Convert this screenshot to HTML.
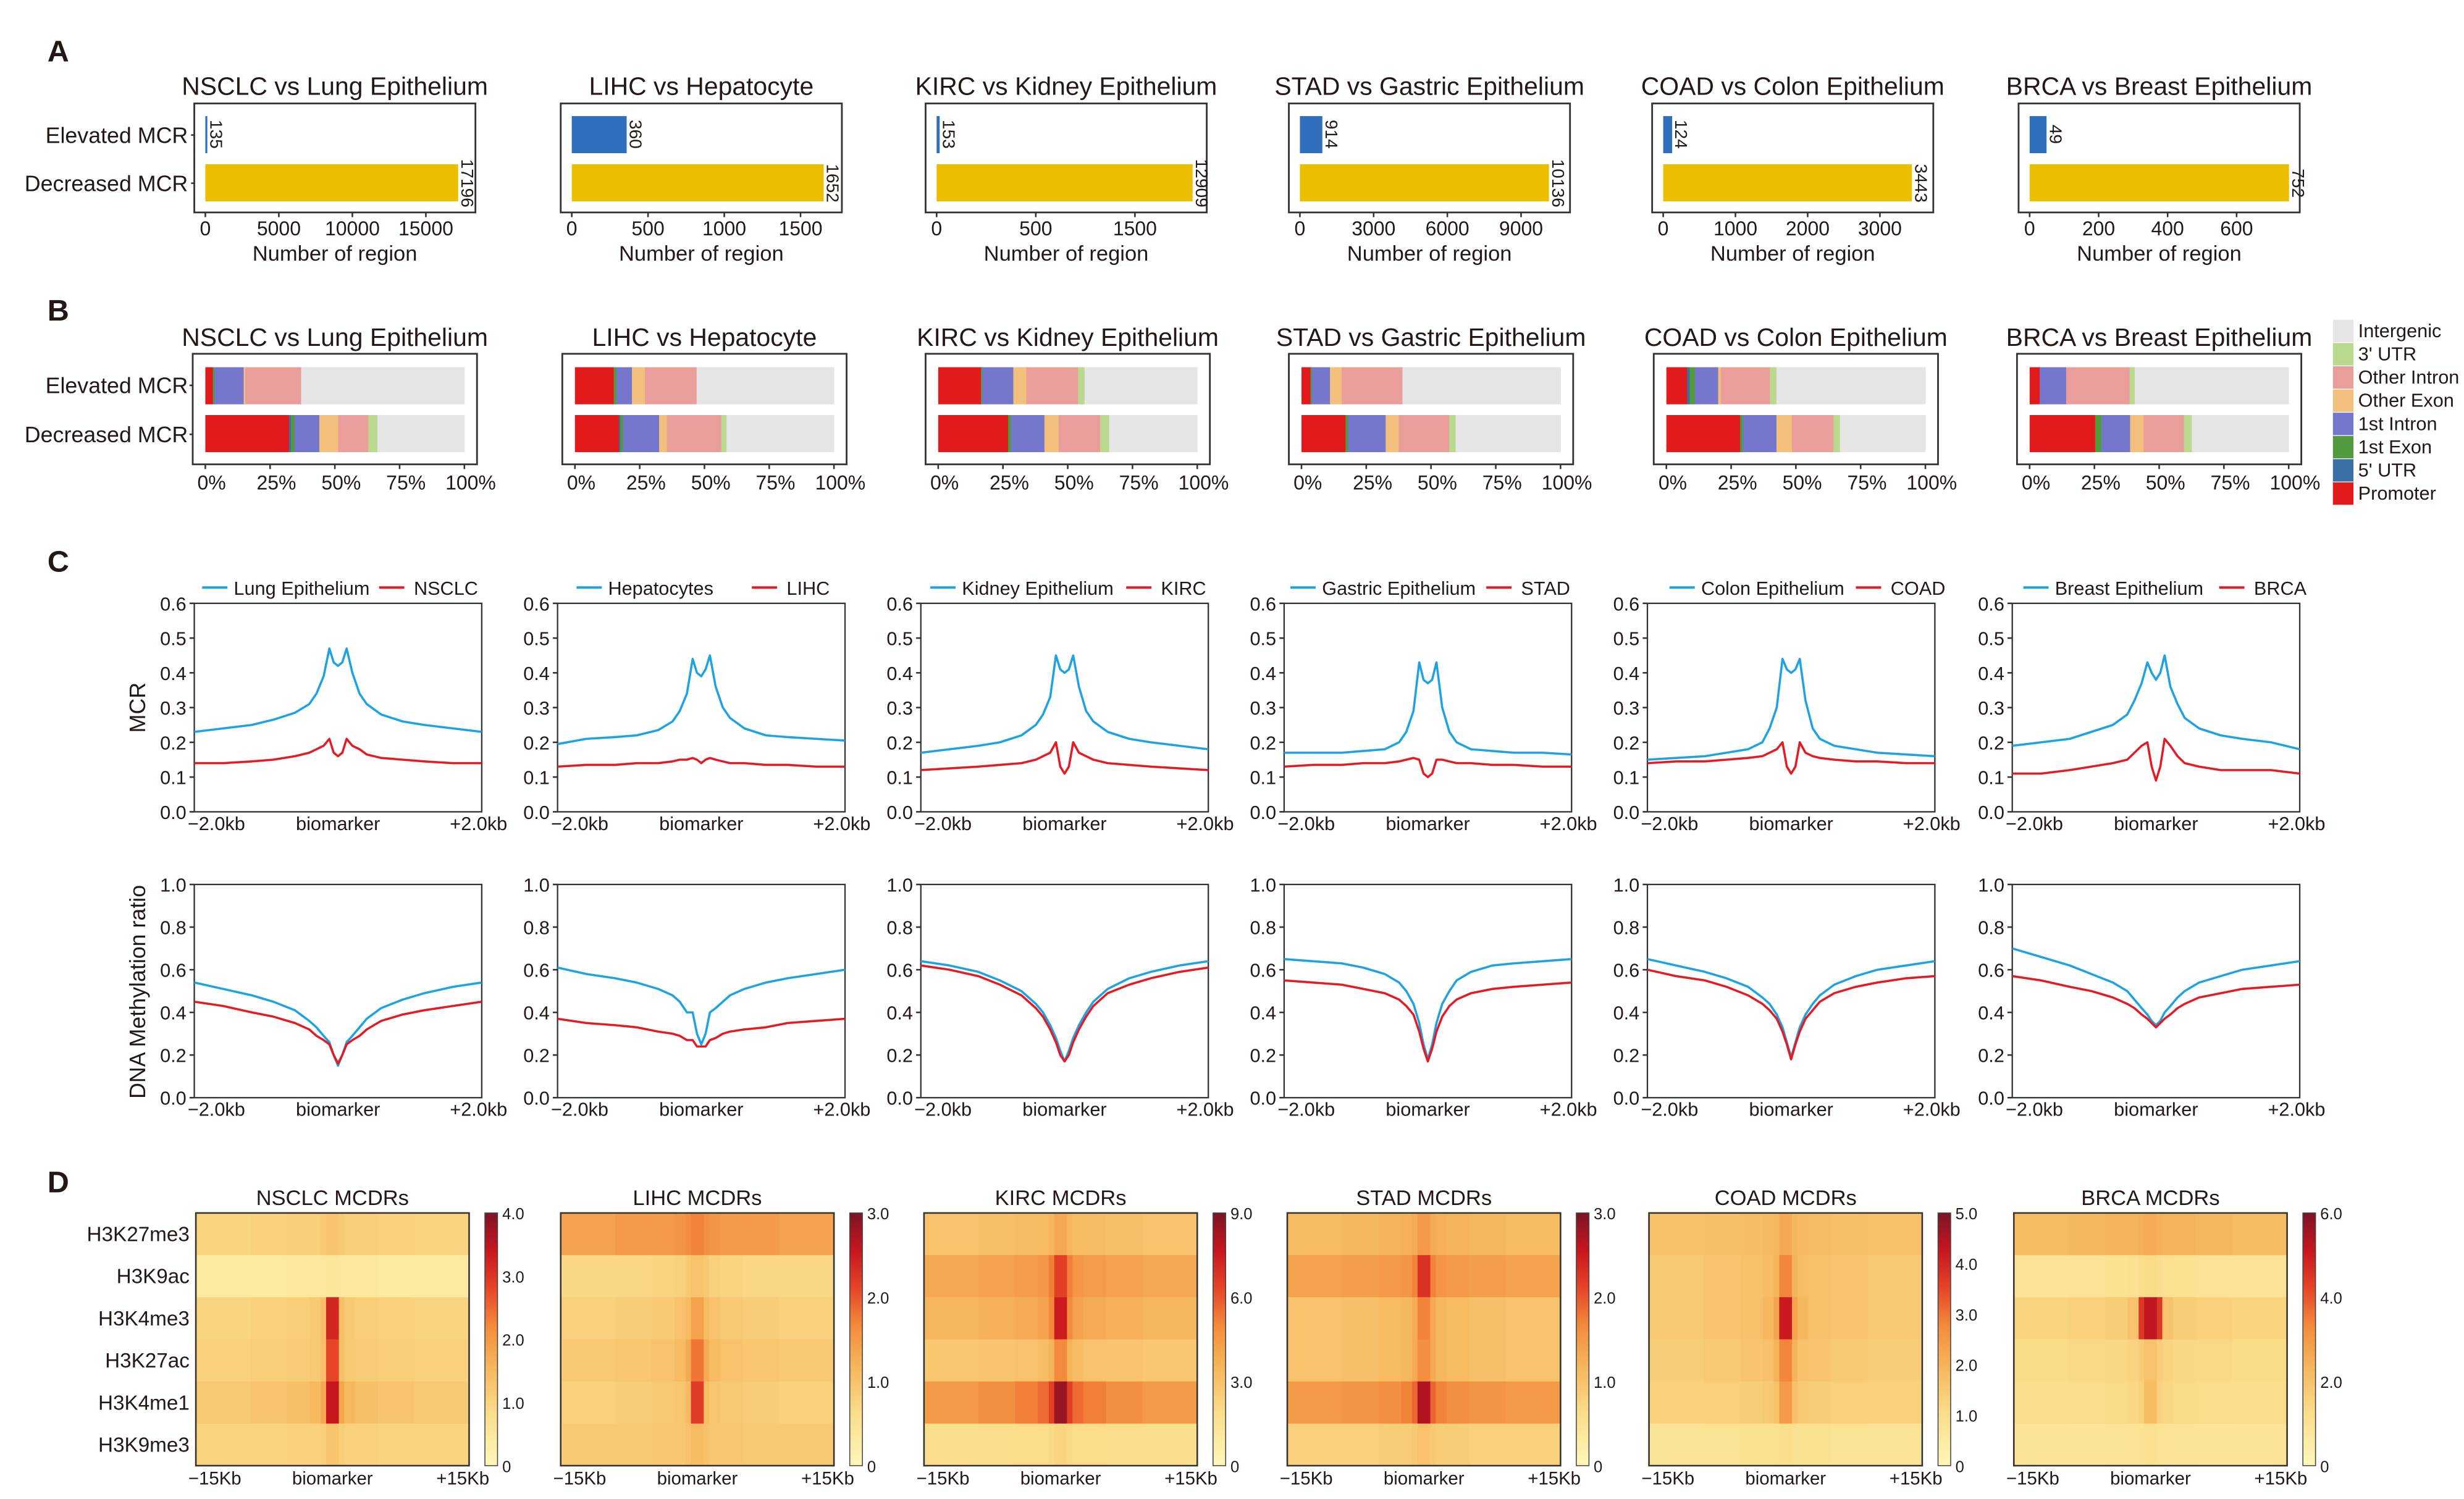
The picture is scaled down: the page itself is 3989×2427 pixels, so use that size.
<!DOCTYPE html>
<html><head><meta charset="utf-8">
<style>
html,body{margin:0;padding:0;background:#fff}
svg{display:block}
text{font-family:"Liberation Sans",Arial,sans-serif;fill:#231815}
</style></head><body>
<svg id="fig" width="3989" height="2427" viewBox="0 0 1560 949.1" preserveAspectRatio="none" xmlns="http://www.w3.org/2000/svg"></svg>
<script>
const NS='http://www.w3.org/2000/svg';
const svg=document.getElementById('fig');
function mk(tag,attrs,parent,txt){const e=document.createElementNS(NS,tag);for(const k in attrs)e.setAttribute(k,attrs[k]);if(txt!==undefined)e.textContent=txt;(parent||svg).appendChild(e);return e;}

/* ---------------- DATA ---------------- */
const tumors=['NSCLC','LIHC','KIRC','STAD','COAD','BRCA'];
const normals=['Lung Epithelium','Hepatocyte','Kidney Epithelium','Gastric Epithelium','Colon Epithelium','Breast Epithelium'];
const legendNormals=['Lung Epithelium','Hepatocytes','Kidney Epithelium','Gastric Epithelium','Colon Epithelium','Breast Epithelium'];

// Panel A
const aElevated=[135,360,153,914,124,49];
const aDecreased=[17196,1652,12909,10136,3443,752];
const aTickVals=[[0,5000,10000,15000],[0,500,1000,1500],[0,5000,10000],[0,3000,6000,9000],[0,1000,2000,3000],[0,200,400,600]];
const aTickLabels=[["0","5000","10000","15000"],["0","500","1000","1500"],["0","500","1500"],["0","3000","6000","9000"],["0","1000","2000","3000"],["0","200","400","600"]];
const aDomainMax=[18370,1771,13620,10992,3739,783];

// Panel B (percent) order: Promoter,5'UTR,1st Exon,1st Intron,Other Exon,Other Intron,3'UTR,Intergenic
const bCategories=['Promoter',"5' UTR",'1st Exon','1st Intron','Other Exon','Other Intron',"3' UTR",'Intergenic'];
const bElevated=[
 [2.9,0,0.6,11.3,0.6,21.6,0,63.0],
 [15,0,1,6,5,20,0,53],
 [16.5,0,0.5,12,5,20,2.5,43.5],
 [3.5,0,0.5,7,4.5,23.5,0,61],
 [8,1,2,9,1,19,2.5,57.5],
 [3.9,0,0,10.2,0,24.5,2,59.4]];
const bDecreased=[
 [32.3,0.7,1.4,9.6,7.3,11.6,3.5,33.6],
 [17,0.5,1,14,3,21,2,41.5],
 [27,0,1,13,5.5,16,3.5,34],
 [17,0,1,14.5,5,19.5,2.5,40.5],
 [28.5,0,1,13,6,16,2.5,33],
 [25.3,0,2.4,11.1,5.2,15.6,3,37.4]];
const bTickLabels=['0%','25%','50%','75%','100%'];
const bTickVals=[0,25,50,75,100];

// Panel C
const cX=[-2,-1.6,-1.2,-0.9,-0.6,-0.4,-0.3,-0.2,-0.12,-0.06,0,0.06,0.12,0.2,0.3,0.4,0.6,0.9,1.2,1.6,2];
const mcrNormal=[
 [.23,.24,.25,.265,.285,.31,.34,.39,.47,.43,.42,.43,.47,.40,.34,.31,.28,.26,.25,.24,.23],
 [.195,.21,.215,.22,.235,.26,.29,.34,.44,.40,.39,.41,.45,.36,.30,.27,.24,.22,.215,.21,.205],
 [.17,.18,.19,.20,.22,.25,.28,.33,.45,.41,.40,.41,.45,.36,.29,.26,.23,.21,.20,.19,.18],
 [.17,.17,.17,.175,.18,.20,.23,.29,.43,.38,.37,.38,.43,.30,.23,.20,.18,.175,.17,.17,.165],
 [.15,.155,.16,.17,.18,.20,.24,.30,.44,.41,.40,.41,.44,.32,.24,.21,.19,.18,.17,.165,.16],
 [.19,.20,.21,.23,.25,.28,.32,.37,.43,.40,.38,.40,.45,.36,.31,.27,.24,.22,.21,.20,.18]];
const mcrTumor=[
 [.14,.14,.145,.15,.16,.17,.18,.19,.21,.17,.16,.17,.21,.19,.18,.165,.155,.15,.145,.14,.14],
 [.13,.135,.135,.14,.14,.145,.15,.15,.155,.15,.14,.15,.155,.15,.145,.14,.14,.135,.135,.13,.13],
 [.12,.125,.13,.135,.14,.15,.16,.17,.20,.13,.11,.13,.20,.17,.16,.15,.14,.135,.13,.125,.12],
 [.13,.135,.135,.14,.14,.145,.15,.155,.15,.11,.10,.11,.15,.15,.145,.14,.14,.135,.135,.13,.13],
 [.14,.145,.145,.15,.155,.16,.17,.18,.20,.13,.11,.13,.20,.17,.16,.155,.15,.145,.145,.14,.14],
 [.11,.11,.12,.13,.14,.15,.17,.19,.20,.13,.09,.13,.21,.19,.16,.14,.13,.12,.12,.12,.11]];
const methNormal=[
 [.54,.51,.48,.45,.41,.36,.33,.29,.26,.20,.15,.20,.26,.29,.33,.37,.42,.46,.49,.52,.54],
 [.61,.58,.56,.54,.51,.48,.45,.40,.40,.30,.25,.30,.40,.42,.45,.48,.51,.54,.56,.58,.60],
 [.64,.62,.59,.55,.50,.44,.40,.34,.28,.22,.17,.22,.28,.34,.40,.45,.51,.56,.59,.62,.64],
 [.65,.64,.63,.61,.58,.54,.50,.44,.35,.25,.18,.25,.35,.44,.50,.55,.59,.62,.63,.64,.65],
 [.65,.62,.59,.56,.52,.47,.44,.39,.33,.26,.19,.26,.33,.39,.44,.48,.53,.57,.60,.62,.64],
 [.70,.66,.62,.58,.54,.50,.46,.42,.39,.36,.34,.36,.40,.43,.47,.50,.54,.57,.60,.62,.64]];
const methTumor=[
 [.45,.43,.40,.38,.35,.32,.29,.27,.25,.20,.16,.20,.25,.27,.29,.32,.36,.39,.41,.43,.45],
 [.37,.35,.34,.33,.31,.30,.29,.27,.27,.24,.24,.24,.27,.28,.30,.31,.32,.33,.35,.36,.37],
 [.62,.60,.57,.53,.48,.42,.38,.32,.26,.20,.17,.20,.26,.32,.38,.43,.49,.53,.56,.59,.61],
 [.55,.54,.53,.51,.49,.46,.43,.39,.31,.23,.17,.23,.31,.38,.43,.46,.49,.51,.52,.53,.54],
 [.60,.57,.55,.52,.48,.44,.41,.37,.31,.25,.18,.25,.31,.37,.41,.45,.49,.52,.54,.56,.57],
 [.57,.55,.52,.50,.47,.44,.42,.39,.37,.35,.33,.35,.37,.39,.42,.44,.47,.49,.51,.52,.53]];
const mcrTicks=['0.0','0.1','0.2','0.3','0.4','0.5','0.6'];
const mcrTickVals=[0,0.1,0.2,0.3,0.4,0.5,0.6];
const methTicks=['0.0','0.2','0.4','0.6','0.8','1.0'];
const methTickVals=[0,0.2,0.4,0.6,0.8,1.0];

// Panel D
const dMarks=['H3K27me3','H3K9ac','H3K4me3','H3K27ac','H3K4me1','H3K9me3'];
const dBinEdges=[-15,-9,-5,-2.5,-1.3,-0.7,0.7,1.3,2.5,5,9,15];
const dMax=[4,3,9,3,5,6];
const dCbTickVals=[[0,1,2,3,4],[0,1,2,3],[0,3,6,9],[0,1,2,3],[0,1,2,3,4,5],[0,2,4,6]];
const dCbTickLabels=[['0','1.0','2.0','3.0','4.0'],['0','1.0','2.0','3.0'],['0','3.0','6.0','9.0'],['0','1.0','2.0','3.0'],['0','1.0','2.0','3.0','4.0','5.0'],['0','2.0','4.0','6.0']];
const dValues=[
 [[1.0,1.05,1.1,1.1,1.2,1.3,1.2,1.1,1.1,1.05,1.0],
  [0.45,0.45,0.5,0.5,0.5,0.55,0.5,0.5,0.5,0.45,0.45],
  [1.0,1.05,1.1,1.2,1.4,3.2,1.4,1.2,1.1,1.05,1.0],
  [1.05,1.1,1.15,1.2,1.4,2.8,1.4,1.2,1.15,1.1,1.05],
  [1.2,1.3,1.4,1.5,1.8,3.4,1.8,1.5,1.4,1.3,1.2],
  [1.0,1.0,1.05,1.05,1.1,1.3,1.1,1.05,1.05,1.0,1.0]],
 [[1.4,1.5,1.5,1.55,1.6,1.7,1.6,1.55,1.5,1.5,1.4],
  [0.7,0.7,0.75,0.8,0.9,1.0,0.9,0.8,0.75,0.7,0.7],
  [0.8,0.85,0.9,1.0,1.1,1.4,1.1,1.0,0.9,0.85,0.8],
  [0.9,0.95,1.0,1.1,1.3,1.8,1.3,1.1,1.0,0.95,0.9],
  [0.8,0.85,0.9,0.95,1.1,2.2,1.1,0.95,0.9,0.85,0.8],
  [0.9,0.9,0.95,0.95,1.0,1.1,1.0,0.95,0.95,0.9,0.9]],
 [[3.0,3.1,3.2,3.3,3.5,4.0,3.5,3.3,3.2,3.1,3.0],
  [4.0,4.2,4.4,4.6,5.2,6.5,5.2,4.6,4.4,4.2,4.0],
  [3.5,3.7,3.9,4.2,5.0,7.5,5.0,4.2,3.9,3.7,3.5],
  [2.8,2.9,3.0,3.2,3.6,5.0,3.6,3.2,3.0,2.9,2.8],
  [4.5,4.8,5.2,5.6,6.5,8.5,6.5,5.6,5.2,4.8,4.5],
  [1.8,1.8,1.9,1.9,2.0,2.2,2.0,1.9,1.9,1.8,1.8]],
 [[1.1,1.15,1.2,1.25,1.3,1.5,1.3,1.25,1.2,1.15,1.1],
  [1.4,1.45,1.5,1.55,1.7,2.3,1.7,1.55,1.5,1.45,1.4],
  [1.0,1.05,1.1,1.15,1.3,1.7,1.3,1.15,1.1,1.05,1.0],
  [1.0,1.05,1.1,1.15,1.3,1.6,1.3,1.15,1.1,1.05,1.0],
  [1.5,1.55,1.6,1.7,1.9,2.7,1.9,1.7,1.6,1.55,1.5],
  [0.8,0.8,0.85,0.85,0.9,1.0,0.9,0.85,0.85,0.8,0.8]],
 [[1.7,1.75,1.8,1.85,1.9,2.2,1.9,1.85,1.8,1.75,1.7],
  [1.5,1.6,1.7,1.8,2.0,2.8,2.0,1.8,1.7,1.6,1.5],
  [1.5,1.6,1.7,1.9,2.3,4.2,2.3,1.9,1.7,1.6,1.5],
  [1.4,1.5,1.6,1.7,2.0,2.8,2.0,1.7,1.6,1.5,1.4],
  [1.3,1.35,1.4,1.5,1.7,2.5,1.7,1.5,1.4,1.35,1.3],
  [0.8,0.8,0.85,0.85,0.9,1.0,0.9,0.85,0.85,0.8,0.8]],
 [[2.2,2.3,2.4,2.4,2.5,2.6,2.5,2.4,2.4,2.3,2.2],
  [1.0,1.0,1.05,1.1,1.2,1.3,1.2,1.1,1.05,1.0,1.0],
  [1.5,1.6,1.7,2.0,4.5,5.2,4.5,2.0,1.7,1.6,1.5],
  [1.3,1.35,1.4,1.5,1.7,2.0,1.7,1.5,1.4,1.35,1.3],
  [1.2,1.25,1.3,1.4,1.6,2.2,1.6,1.4,1.3,1.25,1.2],
  [0.9,0.9,0.95,1.0,1.0,1.1,1.0,1.0,0.95,0.9,0.9]]];

/* ---------------- LAYOUT ---------------- */
const BLUE='#2f6fbb', YEL='#ebbf00';
const segColors=['#e31a1c','#3a70a6','#519a3e','#7477cc','#f2bf7c','#ea9e9b','#b9d98f','#e5e5e5'];
const LB='#1ea2e2', LR='#e41a25';

[['A',30,39],['B',30,203],['C',30,362],['D',30,755]].forEach(function(p){
  const t=mk('text',{x:p[1],y:p[2],'font-size':19,'font-weight':'bold'},svg,p[0]);
  
  
});

/* ---- Panel A ---- */
const aLeft=[123,355,586,816,1046,1278];
const aW=178;
for(let i=0;i<6;i++){
  const g=mk('g',{});
  
  
  const L=aLeft[i], R=L+aW, T=65.5, B=134.5;
  const x0=L+7;
  const sx=v=>x0+(v/aDomainMax[i])*(R-x0);
  const title=mk('text',{x:(L+R)/2,y:60,'font-size':16,'text-anchor':'middle'},g,tumors[i]+' vs '+normals[i]);
  
  
  const box=mk('rect',{x:L,y:T,width:aW,height:B-T,fill:'none',stroke:'#333','stroke-width':1.1},g);
  
  
  const b1=mk('rect',{x:x0,y:73.5,width:Math.max(1.2,sx(aElevated[i])-x0),height:23.5,fill:BLUE},g);
  
  
  const b2=mk('rect',{x:x0,y:104,width:sx(aDecreased[i])-x0,height:23.5,fill:YEL},g);
  
  
  const e1=Math.max(x0+1.2,sx(aElevated[i]));
  const l1=mk('text',{x:0,y:0,'font-size':11,'text-anchor':'middle',transform:'translate('+(e1+2)+',85) rotate(90)'},g,String(aElevated[i]));
  
  
  const l2=mk('text',{x:0,y:0,'font-size':11,'text-anchor':'middle',transform:'translate('+(sx(aDecreased[i])+2)+',116) rotate(90)'},g,String(aDecreased[i]));
  
  
  aTickVals[i].forEach(function(v,k){
    const tk=mk('line',{x1:sx(v),x2:sx(v),y1:B,y2:B+3,stroke:'#333','stroke-width':1},g);
    
    
    const tl=mk('text',{x:sx(v),y:149,'font-size':12.5,'text-anchor':'middle'},g,aTickLabels[i][k]);
    
    
  });
  const xt=mk('text',{x:(L+R)/2,y:165,'font-size':13.5,'text-anchor':'middle'},g,'Number of region');
  
  
  if(i===0){
    [['Elevated MCR',85.5],['Decreased MCR',116]].forEach(function(r){
      const yl=mk('text',{x:119,y:r[1]+5,'font-size':14,'text-anchor':'end'},g,r[0]);
      
      
      const yt=mk('line',{x1:L-2,x2:L,y1:r[1],y2:r[1],stroke:'#333'},g);
      
      
    });
  }
}

/* ---- Panel B ---- */
const bLeft=[122,356,586,816,1047,1277];
const bW=180;
for(let i=0;i<6;i++){
  const g=mk('g',{});
  
  
  const L=bLeft[i], R=L+bW, T=224, B=294;
  const x0=L+8, x1=R-8;
  const sx=p=>x0+p/100*(x1-x0);
  const title=mk('text',{x:(L+R)/2,y:219,'font-size':16,'text-anchor':'middle'},g,tumors[i]+' vs '+normals[i]);
  
  
  [[bElevated[i],232.5,'elevated'],[bDecreased[i],262.8,'decreased']].forEach(function(row){
    let acc=0;
    row[0].forEach(function(v,k){
      const s=mk('rect',{x:sx(acc),y:row[1],width:sx(acc+v)-sx(acc)+0.2,height:23.5,fill:segColors[k]},g);
      
      
      acc+=v;
    });
  });
  const box=mk('rect',{x:L,y:T,width:bW,height:B-T,fill:'none',stroke:'#333','stroke-width':1.1},g);
  
  
  bTickVals.forEach(function(v,k){
    const tk=mk('line',{x1:sx(v),x2:sx(v),y1:B,y2:B+3,stroke:'#333'},g);
    
    
    const tl=mk('text',{x:sx(v)+4,y:310,'font-size':12.5,'text-anchor':'middle'},g,bTickLabels[k]);
    
    
  });
  if(i===0){
    [['Elevated MCR',244],['Decreased MCR',275]].forEach(function(r){
      const yl=mk('text',{x:119,y:r[1]+5,'font-size':14,'text-anchor':'end'},g,r[0]);
      
      
      const yt=mk('line',{x1:L-2,x2:L,y1:r[1],y2:r[1],stroke:'#333'},g);
      
      
    });
  }
}
const lg=mk('g',{});


for(let k=7;k>=0;k--){
  const idx=7-k;
  const y=202.5+idx*14.7;
  const sw=mk('rect',{x:1477,y:y,width:13,height:14.2,fill:segColors[k]},lg);
  
  
  const tx=mk('text',{x:1493,y:y+11,'font-size':12},lg,bCategories[k]);
  
  
}

/* ---- Panel C ---- */
const cLeft=[123,353,583,813,1043,1274];
const cW=182;
const cLegendPos=[[128,240],[365,476],[589,713],[817,941],[1057,1175],[1281,1405]];
function drawLine(g,xs,ys,sx,sy,color,name){
  let d='';
  xs.forEach(function(x,k){d+=(k?'L':'M')+sx(x).toFixed(2)+','+sy(ys[k]).toFixed(2);});
  const p=mk('path',{d:d,fill:'none',stroke:color,'stroke-width':1.4,'stroke-linejoin':'round'},g);
  
  
}
function linePanel(i,T,B,ymax,tickVals,tickLabels,nData,tData,kind){
  const g=mk('g',{});
  
  
  const L=cLeft[i], R=L+cW;
  const sx=x=>L+(x+2)/4*(R-L);
  const sy=v=>B-v/ymax*(B-T);
  const box=mk('rect',{x:L,y:T,width:cW,height:B-T,fill:'none',stroke:'#333','stroke-width':0.9},g);
  
  
  tickVals.forEach(function(v,k){
    const tk=mk('line',{x1:L-3,x2:L,y1:sy(v),y2:sy(v),stroke:'#333'},g);
    
    
    const tl=mk('text',{x:L-5,y:sy(v)+4.5,'font-size':12,'text-anchor':'end'},g,tickLabels[k]);
    
    
  });
  const xl=[['\u22122.0kb',L+14,'middle'],['biomarker',(L+R)/2,'middle'],['+2.0kb',R-2,'middle']];
  xl.forEach(function(a){
    const t=mk('text',{x:a[1],y:B+11.5,'font-size':12,'text-anchor':a[2]},g,a[0]);
    
    
  });
  drawLine(g,cX,nData[i],sx,sy,LB,'line-'+legendNormals[i].toLowerCase().replace(/ /g,'-'));
  drawLine(g,cX,tData[i],sx,sy,LR,'line-'+tumors[i].toLowerCase());
  return g;
}
for(let i=0;i<6;i++){
  const g=linePanel(i,382,514,0.6,mcrTickVals,mcrTicks,mcrNormal,mcrTumor,'mcr');
  const lp=cLegendPos[i];
  const la=mk('line',{x1:lp[0],x2:lp[0]+16,y1:372,y2:372,stroke:LB,'stroke-width':1.6},g);
  
  
  const ta=mk('text',{x:lp[0]+20,y:376.5,'font-size':12},g,legendNormals[i]);
  
  
  const lb=mk('line',{x1:lp[1],x2:lp[1]+16,y1:372,y2:372,stroke:LR,'stroke-width':1.6},g);
  
  
  const tb=mk('text',{x:lp[1]+22,y:376.5,'font-size':12},g,tumors[i]);
  
  
  linePanel(i,560,695,1.0,methTickVals,methTicks,methNormal,methTumor,'methylation');
}
const yt1=mk('text',{x:0,y:0,'font-size':14,'text-anchor':'middle',transform:'translate(92,448) rotate(-90)'},svg,'MCR');


const yt2=mk('text',{x:0,y:0,'font-size':14,'text-anchor':'middle',transform:'translate(92,628) rotate(-90)'},svg,'DNA Methylation ratio');



/* ---- Panel D ---- */
const cmapStops=[[0,[254,247,185]],[0.2,[250,222,140]],[0.4,[246,180,90]],[0.55,[243,140,60]],[0.7,[230,70,40]],[0.85,[200,22,30]],[1,[125,20,38]]];
function cmap(t){
  t=Math.max(0,Math.min(1,t));
  for(let k=1;k<cmapStops.length;k++){
    if(t<=cmapStops[k][0]){
      const a=cmapStops[k-1],b=cmapStops[k];const f=(t-a[0])/(b[0]-a[0]);
      return 'rgb('+a[1].map((c,j)=>Math.round(c+(b[1][j]-c)*f)).join(',')+')';
    }
  }
  return 'rgb(125,20,38)';
}
const defs=mk('defs',{});
const grad=mk('linearGradient',{id:'cbgrad',x1:0,y1:1,x2:0,y2:0},defs);
for(let k=0;k<=20;k++){mk('stop',{offset:(k/20),'stop-color':cmap(k/20)},grad);}
const dLeft=[124,355,585,815,1044,1275];
const dW=173;
for(let i=0;i<6;i++){
  const g=mk('g',{});
  
  
  const L=dLeft[i], R=L+dW, T=768, B=928;
  const sx=kb=>L+(kb+15)/30*dW;
  const rh=(B-T)/6;
  const title=mk('text',{x:(L+R)/2,y:763,'font-size':13.5,'text-anchor':'middle'},g,tumors[i]+' MCDRs');
  
  
  dValues[i].forEach(function(row,r){
    row.forEach(function(v,c){
      const x=sx(dBinEdges[c]), w=sx(dBinEdges[c+1])-x;
      const cell=mk('rect',{x:x,y:T+r*rh,width:w+0.3,height:rh+0.3,fill:cmap(v/dMax[i])},g);
      
      
    });
    if(i===0){
      const rl=mk('text',{x:120,y:T+r*rh+rh/2+4.5,'font-size':13,'text-anchor':'end'},g,dMarks[r]);
      
      
    }
  });
  const box=mk('rect',{x:L,y:T,width:dW,height:B-T,fill:'none',stroke:'#333','stroke-width':1},g);
  
  
  [['\u221215Kb',L+12],['biomarker',(L+R)/2],['+15Kb',R-4]].forEach(function(a){
    const t=mk('text',{x:a[1],y:940,'font-size':11.5,'text-anchor':'middle'},g,a[0]);
    
    
  });
  const cbx=R+10;
  const cb=mk('rect',{x:cbx,y:T,width:8,height:B-T,fill:'url(#cbgrad)',stroke:'#444','stroke-width':0.6},g);
  
  
  dCbTickVals[i].forEach(function(v,k){
    const y=B-v/dMax[i]*(B-T);
    const tl=mk('text',{x:cbx+11,y:y+4,'font-size':10},g,dCbTickLabels[i][k]);
    
    
  });
}
</script>
</body></html>
